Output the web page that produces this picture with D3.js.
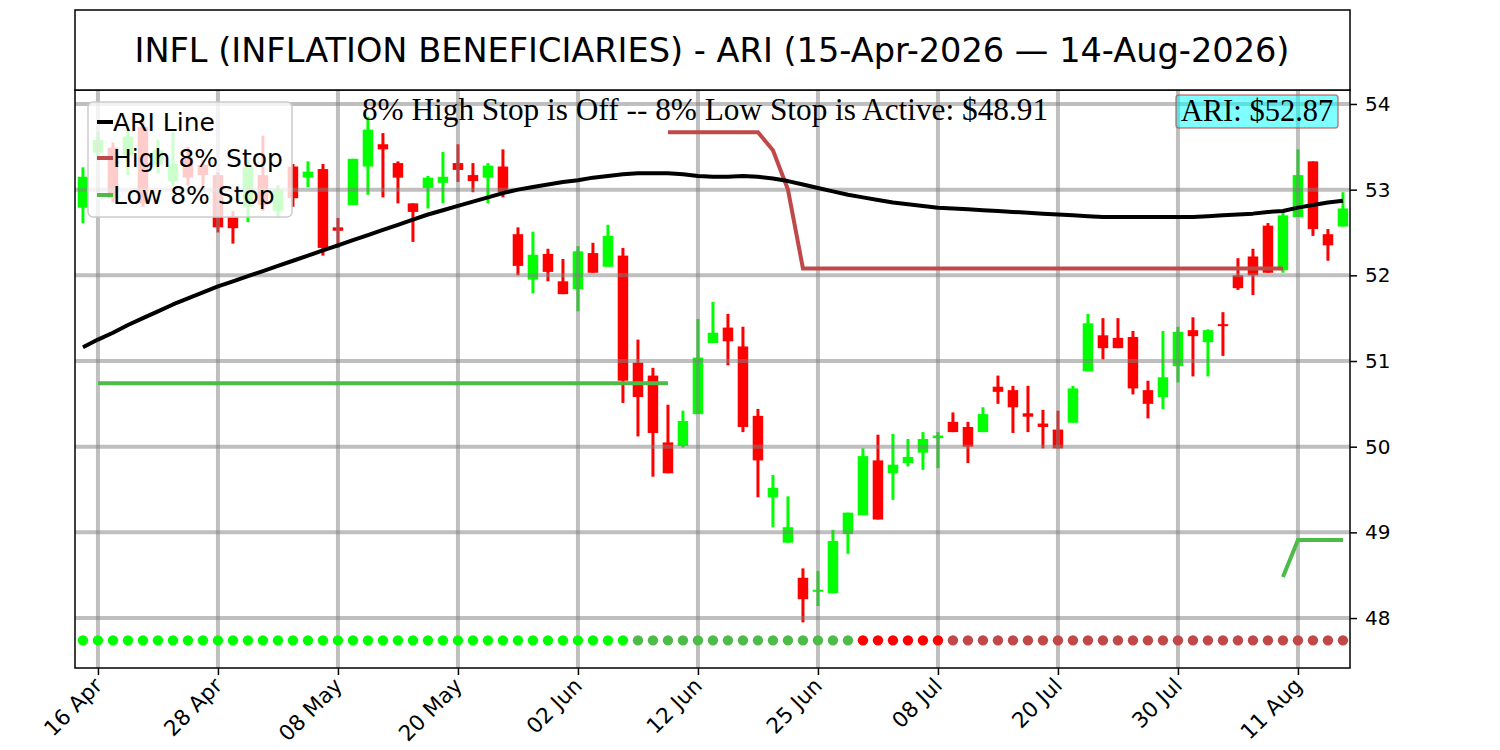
<!DOCTYPE html>
<html><head><meta charset="utf-8">
<script src="https://cdn.jsdelivr.net/npm/d3@7"></script>
<style>body{margin:0;background:#fff}</style>
</head><body>
<svg id="c" width="1500" height="750"></svg>
<script>
// ---- data ----
const opens  = [52.79,53.43,53.49,53.40,53.73,53.29,53.10,53.37,53.29,53.17,52.68,52.80,53.17,52.75,53.27,53.14,53.24,52.56,52.82,53.27,53.53,53.31,52.84,53.02,53.08,53.31,53.17,53.14,53.27,52.48,51.95,52.25,51.93,51.84,52.26,52.10,52.23,50.98,50.83,50.05,50.01,50.38,51.21,51.39,51.17,50.36,49.41,48.88,48.47,48.31,48.29,48.98,49.20,49.84,49.69,49.81,49.93,50.10,50.29,50.23,50.17,50.70,50.66,50.39,50.27,50.20,50.28,50.88,51.30,51.27,51.28,50.66,50.58,50.94,51.36,51.22,51.43,52.00,52.22,52.58,52.06,52.68,53.33,52.48,52.57];
const highs  = [53.26,53.67,53.55,53.72,53.80,53.58,53.67,53.50,53.35,53.20,52.75,53.35,53.63,53.05,53.30,53.33,53.30,52.67,53.36,53.85,53.66,53.33,52.84,53.16,53.44,53.53,53.31,53.31,53.47,52.56,52.51,52.31,52.19,52.34,52.38,52.59,52.32,51.25,50.92,50.49,50.42,51.49,51.69,51.55,51.40,50.44,49.67,49.42,48.58,48.55,49.03,49.23,49.98,50.14,50.15,50.09,50.17,50.17,50.40,50.29,50.46,50.83,50.71,50.71,50.43,50.42,50.71,51.55,51.50,51.50,51.35,50.77,51.35,51.40,51.51,51.37,51.57,52.20,52.31,52.61,52.76,53.47,53.33,52.54,52.97];
const lows   = [52.61,53.35,52.85,53.17,52.80,53.19,53.05,53.05,53.00,52.50,52.37,52.62,52.75,52.68,52.80,53.03,52.23,52.32,52.82,52.94,52.91,52.84,52.39,52.78,52.84,53.09,52.97,52.84,52.91,52.00,51.79,51.93,51.78,51.58,52.03,52.10,50.51,50.12,49.65,49.69,49.99,50.38,51.21,50.95,50.17,49.41,49.06,48.88,47.95,48.14,48.29,48.75,49.20,49.15,49.38,49.77,49.73,49.75,50.17,49.81,50.17,50.50,50.16,50.17,49.98,49.98,50.28,50.88,51.02,51.15,50.61,50.33,50.44,50.75,50.82,50.82,51.06,51.83,51.77,52.03,52.03,52.68,52.46,52.17,52.57];
const closes = [53.15,53.58,52.90,53.62,52.84,53.46,53.30,53.14,53.17,52.56,52.55,53.27,52.82,53.00,52.90,53.21,52.32,52.52,53.36,53.70,53.47,53.14,52.74,53.14,53.15,53.23,53.10,53.28,52.97,52.11,52.24,52.04,51.78,52.28,52.03,52.46,50.77,50.58,50.16,49.69,50.30,51.04,51.33,51.23,50.23,49.84,49.52,49.06,48.22,48.33,48.90,49.23,49.89,49.15,49.79,49.88,50.09,50.13,50.17,50.00,50.38,50.64,50.46,50.35,50.23,49.98,50.68,51.44,51.15,51.15,50.68,50.50,50.81,51.34,51.29,51.36,51.41,51.85,52.00,52.03,52.70,53.17,52.54,52.35,52.78];
const ariLine = [51.16,51.25,51.33,51.42,51.50,51.58,51.66,51.73,51.80,51.87,51.93,51.99,52.05,52.11,52.17,52.23,52.29,52.35,52.41,52.47,52.53,52.59,52.65,52.71,52.76,52.81,52.86,52.91,52.96,53.00,53.03,53.06,53.09,53.11,53.14,53.16,53.18,53.19,53.19,53.19,53.18,53.16,53.15,53.15,53.16,53.15,53.13,53.10,53.06,53.02,52.98,52.94,52.91,52.88,52.85,52.83,52.81,52.79,52.78,52.77,52.76,52.75,52.74,52.73,52.72,52.71,52.70,52.69,52.68,52.68,52.68,52.68,52.68,52.68,52.68,52.69,52.70,52.71,52.72,52.74,52.75,52.79,52.82,52.85,52.87];
const highStop = [null,null,null,null,null,null,null,null,null,null,null,null,null,null,null,null,null,null,null,null,null,null,null,null,null,null,null,null,null,null,null,null,null,null,null,null,null,null,null,
  53.67,53.67,53.67,53.67,53.67,53.67,53.67,53.46,53.00,52.08,52.08,52.08,52.08,52.08,52.08,52.08,52.08,52.08,52.08,52.08,52.08,52.08,52.08,52.08,52.08,52.08,52.08,52.08,52.08,52.08,52.08,52.08,52.08,52.08,52.08,52.08,52.08,52.08,52.08,52.08,52.08,52.08,
  null,null,null,null];
const lowStop = [null,50.74,50.74,50.74,50.74,50.74,50.74,50.74,50.74,50.74,50.74,50.74,50.74,50.74,50.74,50.74,50.74,50.74,50.74,50.74,50.74,50.74,50.74,50.74,50.74,50.74,50.74,50.74,50.74,50.74,50.74,50.74,50.74,50.74,50.74,50.74,50.74,50.74,50.74,50.74,
  null,null,null,null,null,null,null,null,null,null,null,null,null,null,null,null,null,null,null,null,null,null,null,null,null,null,null,null,null,null,null,null,null,null,null,null,null,null,null,null,
  48.48,48.91,48.91,48.91,48.91];
const dotLevel = 47.74;
const dotRuns = [["lime",37],["lowGreen",15],["red",6],["highRed",27]];
const tickIdx = [1,9,17,25,33,41,49,57,65,73,81];
const tickLabels = ["16 Apr","28 Apr","08 May","20 May","02 Jun","12 Jun","25 Jun","08 Jul","20 Jul","30 Jul","11 Aug"];
const yTicks = [48,49,50,51,52,53,54];
const titleText = "INFL (INFLATION BENEFICIARIES) - ARI (15-Apr-2026 \u2014 14-Aug-2026)";
const noteText = "8% High Stop is Off -- 8% Low Stop is Active: $48.91";
const ariLabel = "ARI: $52.87";
const legendItems = [["ARI Line","#000000"],["High 8% Stop","#c04848"],["Low 8% Stop","#4cbb47"]];

// ---- drawing ----
const C = {lime:"#00ff00", lowGreen:"#4cbb47", red:"#ff0000", highRed:"#c04848"};
const L = 75, R = 1350, T = 90, B = 668;
const svg = d3.select("#c");
svg.append("rect").attr("width",1500).attr("height",750).attr("fill","#fff");
const x = d3.scaleLinear().domain([-0.53, 84.47]).range([L, R]);
const y = d3.scaleLinear().domain([47.417, 54.163]).range([B, T]);
const idx = d3.range(opens.length);

const plot = svg.append("g");
// candles
const cg = plot.append("g");
cg.selectAll("rect.w").data(idx).join("rect")
  .attr("x", i => x(i) - 1.5).attr("width", 3)
  .attr("y", i => y(highs[i])).attr("height", i => Math.max(1, y(lows[i]) - y(highs[i])))
  .attr("fill", i => closes[i] >= opens[i] ? C.lime : C.red);
cg.selectAll("rect.b").data(idx).join("rect")
  .attr("x", i => x(i) - 5.25).attr("width", 10.5)
  .attr("y", i => y(Math.max(opens[i], closes[i])))
  .attr("height", i => Math.max(2, Math.abs(y(opens[i]) - y(closes[i]))))
  .attr("fill", i => closes[i] >= opens[i] ? C.lime : C.red);

// grid
const gg = plot.append("g").attr("stroke","#808080").attr("stroke-opacity",0.5).attr("stroke-width",4);
gg.selectAll("line.h").data(yTicks).join("line")
  .attr("x1",L).attr("x2",R).attr("y1",d=>y(d)).attr("y2",d=>y(d));
gg.selectAll("line.v").data(tickIdx).join("line")
  .attr("y1",T).attr("y2",B).attr("x1",d=>x(d)).attr("x2",d=>x(d));

// lines
const line = d3.line().defined(d => d != null).x((d,i) => x(i)).y(d => y(d));
plot.append("path").datum(highStop).attr("d", line).attr("fill","none")
  .attr("stroke",C.highRed).attr("stroke-width",4);
plot.append("path").datum(lowStop).attr("d", line).attr("fill","none")
  .attr("stroke",C.lowGreen).attr("stroke-width",4);
plot.append("path").datum(ariLine).attr("d", line).attr("fill","none")
  .attr("stroke","#000").attr("stroke-width",4).attr("stroke-linejoin","round");

// dots
const dotColors = dotRuns.flatMap(([c,n]) => d3.range(n).map(() => C[c]));
plot.selectAll("circle").data(idx).join("circle")
  .attr("cx", i => x(i)).attr("cy", y(dotLevel)).attr("r", 5.2)
  .attr("fill", i => dotColors[i]);

// axes
const ya = svg.append("g").attr("transform",`translate(${R},0)`)
  .call(d3.axisRight(y).tickValues(yTicks).tickSize(7).tickPadding(8).tickFormat(d3.format("d")));
ya.select(".domain").remove();
ya.selectAll("text").attr("font-family","DejaVu Sans").attr("font-size",20).attr("fill","#000");
ya.selectAll("line").attr("stroke","#000").attr("stroke-width",1.5);

const xa = svg.append("g").attr("transform",`translate(0,${B})`)
  .call(d3.axisBottom(x).tickValues(tickIdx).tickSize(7).tickFormat((d,i) => tickLabels[i]));
xa.select(".domain").remove();
xa.selectAll("line").attr("stroke","#000").attr("stroke-width",1.5);
xa.selectAll("text").attr("font-family","DejaVu Sans").attr("font-size",21.5).attr("fill","#000")
  .attr("text-anchor","end").attr("dy",0).attr("y",0)
  .attr("transform","translate(5,19) rotate(-45)");

// frames
svg.append("rect").attr("x",L).attr("y",T).attr("width",R-L).attr("height",B-T)
  .attr("fill","none").attr("stroke","#000").attr("stroke-width",1.5);
svg.append("rect").attr("x",L).attr("y",10).attr("width",R-L).attr("height",T-10)
  .attr("fill","#fff").attr("stroke","#000").attr("stroke-width",1.5);
svg.append("text").attr("x",712).attr("y",62).attr("text-anchor","middle")
  .attr("font-family","DejaVu Sans").attr("font-size",33.6).text(titleText);

// annotation
svg.append("text").attr("x",705).attr("y",120).attr("text-anchor","middle")
  .attr("font-family","Liberation Serif").attr("font-size",31.3).text(noteText);
svg.append("rect").attr("x",1176).attr("y",95).attr("width",162).attr("height",33).attr("rx",3)
  .attr("fill","#00ffff").attr("fill-opacity",0.5).attr("stroke","#b05050").attr("stroke-opacity",0.7).attr("stroke-width",1.5);
svg.append("text").attr("x",1257).attr("y",121).attr("text-anchor","middle")
  .attr("font-family","Liberation Serif").attr("font-size",30.5).text(ariLabel);

// legend
const lg = svg.append("g");
lg.append("rect").attr("x",88).attr("y",102).attr("width",204).attr("height",115).attr("rx",5)
  .attr("fill","#fff").attr("fill-opacity",0.8).attr("stroke","#cccccc").attr("stroke-width",1.5);
const ly = [122,158,195];
legendItems.forEach(([t,c],k) => {
  lg.append("line").attr("x1",97).attr("x2",113).attr("y1",ly[k]).attr("y2",ly[k])
    .attr("stroke",c).attr("stroke-width",4);
  lg.append("text").attr("x",113).attr("y",ly[k]+9).attr("font-family","DejaVu Sans")
    .attr("font-size",25).text(t);
});
</script>
</body></html>
